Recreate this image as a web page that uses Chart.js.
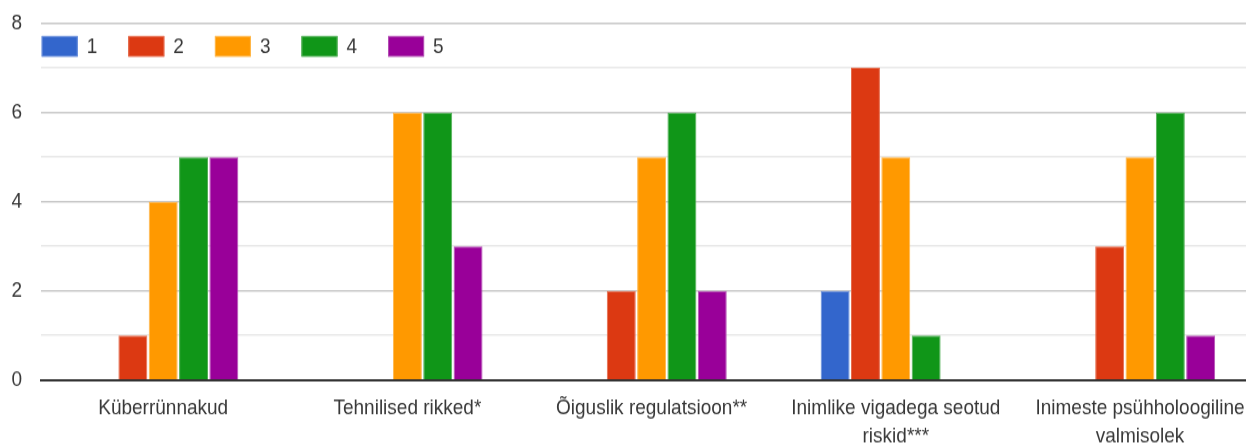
<!DOCTYPE html>
<html>
<head>
<meta charset="utf-8">
<script src="https://cdn.jsdelivr.net/npm/chart.js@4/dist/chart.umd.min.js"></script>
<style>
  html, body { margin: 0; padding: 0; background: #fff; overflow: hidden; width: 1246px; height: 448px; }
  #wrap { position: absolute; left: 0; top: 0; width: 1266px; height: 397px; transform: scaleY(1.1285); transform-origin: 0 0; }
</style>
</head>
<body>
<div id="wrap"><canvas id="c"></canvas></div>
<script>
// Survey answers (score 1..5) per risk category
const categories = [
  'Küberrünnakud',
  'Tehnilised rikked*',
  'Õiguslik regulatsioon**',
  ['Inimlike vigadega seotud', 'riskid***'],
  ['Inimeste psühholoogiline', 'valmisolek']
];
const seriesNames = ['1', '2', '3', '4', '5'];
const score1 = [0, 0, 0, 2, 0];
const score2 = [1, 0, 2, 7, 3];
const score3 = [4, 6, 5, 5, 5];
const score4 = [5, 6, 6, 1, 6];
const score5 = [5, 3, 2, 0, 1];
const yTickLabels = [0, 2, 4, 6, 8];

const fills = ['#3366cc', '#dc3912', '#ff9900', '#109618', '#990099'];
const edges = ['#6a8fdb', '#e66c4d', '#ffb84d', '#52b057', '#b552b5'];
const textColor = '#383838';
const FONT = '"Liberation Sans", Arial, sans-serif';

Chart.defaults.font.family = FONT;
Chart.defaults.font.size = 19;
Chart.defaults.color = textColor;

const seriesValues = [score1, score2, score3, score4, score5];

// Legend drawn over the top of the plot area, left aligned
const overlayLegend = {
  id: 'overlayLegend',
  afterDraw(chart) {
    const ctx = chart.ctx;
    const start = chart.chartArea.left + 0.6;
    const step = 86.6, boxW = 36, boxH = 18.3, top = 31.9;
    ctx.save();
    ctx.font = '19px ' + FONT;
    ctx.textBaseline = 'middle';
    ctx.textAlign = 'left';
    chart.data.datasets.forEach((ds, i) => {
      const x = start + i * step;
      ctx.fillStyle = ds.backgroundColor;
      ctx.fillRect(x, top, boxW, boxH);
      ctx.strokeStyle = ds.borderColor;
      ctx.lineWidth = 1;
      ctx.strokeRect(x + 0.5, top + 0.5, boxW - 1, boxH - 1);
      ctx.fillStyle = textColor;
      ctx.fillText(ds.label, x + boxW + 9, top + boxH / 2 + 0.5);
    });
    ctx.restore();
  }
};

new Chart(document.getElementById('c'), {
  type: 'bar',
  data: {
    labels: categories,
    datasets: seriesNames.map((name, i) => ({
      label: name,
      data: seriesValues[i],
      backgroundColor: fills[i],
      borderColor: edges[i],
      borderWidth: 1,
      borderSkipped: 'start',
      categoryPercentage: 0.621,
      barPercentage: 0.955
    }))
  },
  options: {
    responsive: true,
    maintainAspectRatio: false,
    animation: false,
    events: [],
    layout: { padding: { top: 20.6, right: 3.9, bottom: 0, left: 11.4 } },
    plugins: { legend: { display: false }, tooltip: { enabled: false } },
    scales: {
      x: {
        z: 1,
        grid: { display: false, drawTicks: false },
        border: { display: true, color: '#333333', width: 2 },
        ticks: {
          color: textColor,
          padding: 12.8,
          maxRotation: 0,
          autoSkip: false,
          font: { size: 19, lineHeight: 1.305 }
        },
        afterFit(scale) { scale.height = 60.3; }
      },
      y: {
        min: 0,
        max: 8,
        border: { display: false },
        grid: {
          drawTicks: false,
          lineWidth: 1.4,
          color(ctx) {
            const v = ctx.tick ? ctx.tick.value : 0;
            if (v === 0) return 'rgba(0,0,0,0)';
            return yTickLabels.includes(v) ? '#c8c8c8' : '#e8e8e8';
          }
        },
        ticks: {
          stepSize: 1,
          padding: 0,
          crossAlign: 'far',
          color: textColor,
          font: { size: 19 },
          callback(value) { return yTickLabels.includes(value) ? String(value) : ''; }
        },
        afterFit(scale) { scale.width = 29.7; }
      }
    }
  },
  plugins: [overlayLegend]
});
</script>
</body>
</html>
